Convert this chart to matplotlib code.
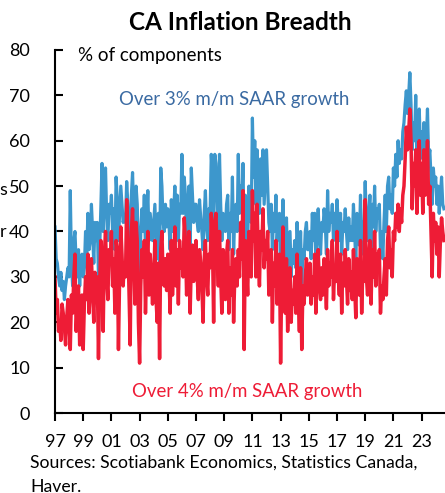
import numpy as np
import matplotlib
matplotlib.use("Agg")
import matplotlib.pyplot as plt

plt.rcParams["font.family"] = ["Lato", "DejaVu Sans"]

BLUE = "#3d97cc"
RED = "#ee1c36"
BLUE_TEXT = "#3a6aa2"

START_YEAR = 1997

# % of CPI components, monthly from Jan 1997
over_4pct = [
    30, 22, 25, 18, 20, 16, 24, 22, 19, 15, 21, 25,  # 1997
    20, 14, 26, 22, 30, 35, 18, 24, 28, 15, 22, 26,  # 1998
    14, 24, 30, 25, 35, 22, 28, 34, 27, 20, 31, 26,  # 1999
    30, 12, 28, 38, 32, 18, 35, 40, 30, 25, 36, 33,  # 2000
    40, 28, 34, 22, 38, 36, 14, 30, 41, 35, 28, 33,  # 2001
    30, 47, 38, 26, 15, 40, 45, 35, 24, 42, 38, 20,  # 2002
    11, 28, 36, 30, 38, 22, 32, 40, 26, 35, 30, 24,  # 2003
    30, 38, 25, 20, 33, 12, 36, 40, 30, 28, 34, 27,  # 2004
    35, 30, 22, 38, 26, 33, 41, 28, 36, 24, 38, 32,  # 2005
    36, 30, 43, 38, 26, 34, 40, 22, 33, 37, 29, 35,  # 2006
    38, 30, 25, 36, 33, 28, 20, 34, 38, 30, 26, 35,  # 2007
    32, 44, 38, 20, 42, 44, 35, 28, 40, 30, 22, 36,  # 2008
    30, 25, 35, 38, 22, 32, 26, 36, 20, 30, 34, 28,  # 2009
    36, 30, 42, 34, 49, 14, 38, 32, 26, 40, 35, 30,  # 2010
    49, 38, 44, 30, 46, 35, 28, 40, 36, 45, 32, 38,  # 2011
    34, 40, 26, 30, 36, 20, 33, 28, 38, 24, 30, 35,  # 2012
    11, 30, 41, 26, 22, 34, 18, 28, 32, 20, 27, 24,  # 2013
    30, 22, 35, 26, 18, 32, 14, 28, 24, 30, 34, 26,  # 2014
    28, 33, 24, 30, 26, 35, 22, 30, 36, 28, 25, 32,  # 2015
    26, 34, 30, 23, 36, 28, 33, 30, 38, 25, 32, 29,  # 2016
    40, 30, 26, 35, 22, 33, 28, 36, 30, 24, 34, 27,  # 2017
    31, 25, 36, 28, 21, 34, 30, 26, 38, 22, 32, 29,  # 2018
    47, 30, 26, 34, 38, 24, 36, 30, 40, 28, 35, 32,  # 2019
    36, 22, 28, 25, 30, 34, 26, 38, 41, 32, 36, 30,  # 2020
    40, 38, 44, 41, 46, 40, 45, 42, 48, 50, 56, 63,  # 2021
    58, 62, 67, 60, 45, 55, 50, 58, 44, 52, 60, 48,  # 2022
    55, 44, 58, 48, 52, 60, 46, 50, 40, 30, 44, 38,  # 2023
    42, 35, 41, 30, 38, 43, 40, 38,                  # 2024
]

over_3pct = [
    41, 34, 33, 30, 28, 31, 27, 29, 25, 28, 30, 32,  # 1997
    30, 49, 33, 28, 38, 40, 33, 30, 36, 28, 34, 35,  # 1998
    30, 32, 40, 35, 44, 36, 38, 46, 40, 33, 42, 38,  # 1999
    42, 30, 36, 45, 55, 40, 50, 54, 43, 38, 46, 44,  # 2000
    48, 40, 45, 36, 52, 47, 38, 44, 50, 46, 42, 43,  # 2001
    42, 51, 46, 38, 35, 48, 53, 44, 40, 50, 46, 36,  # 2002
    25, 40, 45, 40, 48, 36, 42, 49, 38, 44, 41, 38,  # 2003
    42, 46, 38, 34, 44, 32, 54, 50, 42, 40, 46, 41,  # 2004
    45, 42, 36, 47, 40, 44, 50, 41, 48, 38, 46, 44,  # 2005
    57, 44, 52, 48, 38, 45, 50, 36, 54, 48, 42, 46,  # 2006
    46, 42, 40, 47, 43, 40, 36, 44, 49, 41, 38, 45,  # 2007
    44, 57, 52, 38, 57, 55, 48, 40, 57, 46, 38, 44,  # 2008
    42, 40, 46, 48, 36, 44, 40, 52, 35, 44, 46, 40,  # 2009
    57, 44, 50, 46, 55, 36, 48, 44, 38, 50, 47, 42,  # 2010
    65, 52, 60, 46, 58, 50, 44, 56, 48, 58, 46, 52,  # 2011
    58, 50, 42, 40, 46, 36, 44, 40, 48, 38, 42, 44,  # 2012
    30, 40, 47, 38, 34, 43, 32, 36, 40, 30, 36, 33,  # 2013
    38, 32, 42, 36, 30, 40, 28, 36, 34, 40, 42, 36,  # 2014
    36, 40, 34, 44, 38, 44, 33, 40, 45, 38, 35, 42,  # 2015
    40, 45, 42, 35, 49, 40, 44, 42, 46, 38, 44, 40,  # 2016
    47, 42, 38, 44, 35, 42, 40, 45, 40, 36, 43, 38,  # 2017
    41, 38, 46, 40, 33, 44, 42, 37, 48, 35, 42, 40,  # 2018
    51, 42, 38, 44, 48, 36, 46, 41, 50, 40, 45, 43,  # 2019
    46, 36, 40, 34, 42, 48, 40, 50, 52, 45, 48, 44,  # 2020
    54, 50, 57, 52, 60, 55, 58, 56, 62, 64, 68, 71,  # 2021
    66, 70, 75, 68, 58, 64, 60, 70, 56, 62, 67, 58,  # 2022
    62, 56, 64, 58, 60, 67, 56, 58, 52, 46, 54, 50,  # 2023
    52, 46, 50, 44, 48, 52, 46, 45,                  # 2024
]

tick_years = list(range(1997, 2024, 2))
tick_labels = [f"{y % 100:02d}" for y in tick_years]

dates = START_YEAR + np.arange(len(over_3pct)) / 12

W, H = 445, 493
fig = plt.figure(figsize=(W / 100, H / 100), dpi=100)
ax = fig.add_axes([55 / W, 80 / H, 390 / W, 363 / H])


def px(x, y):
    # pixel position from the top-left corner -> figure fraction
    return x / W, 1 - y / H


ax.plot(dates, over_3pct, color=BLUE, lw=2.3, solid_joinstyle="round")
ax.plot(dates, over_4pct, color=RED, lw=2.5, solid_joinstyle="round")

ax.set_xlim(1997, 1997 + 390 / 14.1)
ax.set_ylim(0, 80)
ax.set_yticks(range(0, 81, 10))
ax.set_xticks(tick_years)
ax.set_xticklabels(tick_labels)

for side in ("top", "right"):
    ax.spines[side].set_visible(False)
for side in ("left", "bottom"):
    ax.spines[side].set_linewidth(1.5)
ax.tick_params(axis="y", direction="in", length=6, width=1.5, pad=18, labelsize=13)
ax.tick_params(axis="x", direction="out", length=6, width=1.5, pad=9, labelsize=13)

fig.text(*px(78, 55), "% of components", fontsize=13.5, va="center")
fig.text(*px(119, 100), "Over 3% m/m SAAR growth", color=BLUE_TEXT,
         fontsize=13.4, va="center")
fig.text(*px(132, 392), "Over 4% m/m SAAR growth", color=RED,
         fontsize=13.4, va="center")

fig.text(*px(240, 22), "CA Inflation Breadth", fontsize=17.5,
         fontweight="bold", ha="center", va="center")
fig.text(*px(30, 463), "Sources: Scotiabank Economics, Statistics Canada,",
         fontsize=12.7, va="center")
fig.text(*px(30, 487), "Haver.", fontsize=12.7, va="center")

# clipped fragments of the neighbouring chart's label
fig.text(*px(-1, 190), "s", fontsize=13, va="center")
fig.text(*px(0, 232), "r", fontsize=13, va="center")

fig.savefig("out.png", dpi=100)
